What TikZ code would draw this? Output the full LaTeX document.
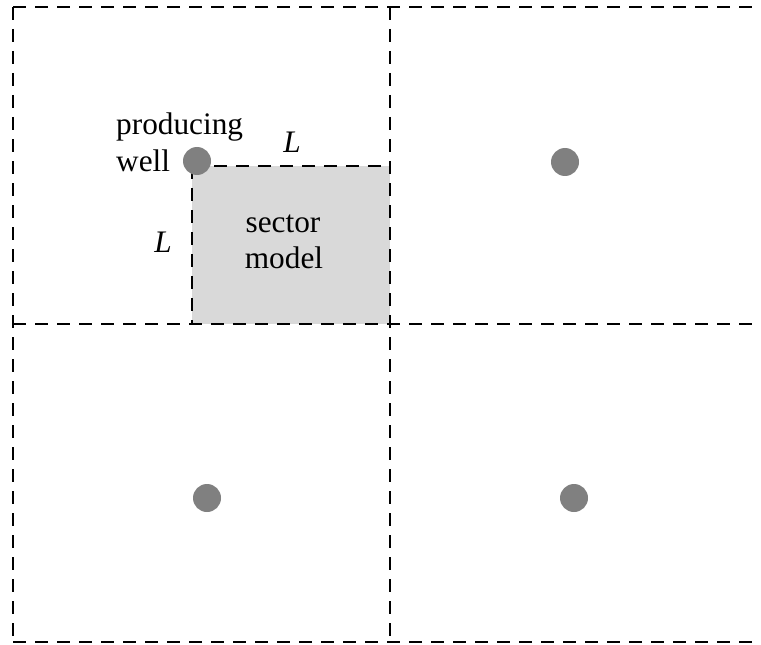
\documentclass[tikz,border=0pt]{standalone}
\usepackage{fontspec}
\setmainfont{Liberation Serif}
\usepackage{xcolor}
\usetikzlibrary{positioning}
\definecolor{wellc}{RGB}{128,128,128}
\definecolor{sectorc}{RGB}{217,217,217}
\tikzset{
  gridline/.style  = {draw=black, line width=2.4bp, dash pattern=on 13bp off 9bp},
  sectorbox/.style = {fill=sectorc, draw=none},
  wellpt/.style    = {circle, fill=wellc, draw=none, minimum size=28bp, inner sep=0pt},
  lbl/.style       = {font=\fontsize{31.3bp}{37bp}\selectfont, inner sep=0pt},
}
\begin{document}
\begin{tikzpicture}[x=1bp, y=-1bp]
\useasboundingbox (0,0) rectangle (761,645);

% ---------- sector model ----------
\fill[sectorbox] (192,166) rectangle (390,324);

% ---------- grid of drainage cells ----------
\coordinate (tl) at (13,7);
\coordinate (tr) at (761,7);
\coordinate (ml) at (13,324);
\coordinate (mr) at (761,324);
\coordinate (bl) at (13,642);
\coordinate (br) at (761,642);
\coordinate (tm) at (390,7);
\coordinate (bm) at (390,645);
\draw[gridline] (tl) -- (tr);
\draw[gridline] (ml) -- (mr);
\draw[gridline] (bl) -- (br);
\draw[gridline] (tl) -- (bl);
\draw[gridline] (tm) -- (bm);

% ---------- sector edges ----------
\coordinate (sc) at (192,166);
\coordinate (sr) at (390,166);
\coordinate (sb) at (192,324);
\draw[gridline] (sc) -- (sr);
\draw[gridline] (sc) -- (sb);

% ---------- wells ----------
\node[wellpt] (w1) at (197,161) {};
\node[wellpt] (w2) at (565,162) {};
\node[wellpt] (w3) at (207,498) {};
\node[wellpt] (w4) at (574,498) {};

% ---------- labels ----------
\node[lbl, anchor=base west] (prod) at (116,135) {producing};
\node[lbl, anchor=base west] (wlbl) at (116,172) {well};
\node[lbl, anchor=base] (Ltop) at (292,153) {\textit{L}};
\node[lbl, anchor=base] (Lleft) at (163,252) {\textit{L}};
\node[lbl, anchor=base] (sec) at (283,232) {sector};
\node[lbl, anchor=base] (mod) at (284,268) {model};

\end{tikzpicture}
\end{document}
